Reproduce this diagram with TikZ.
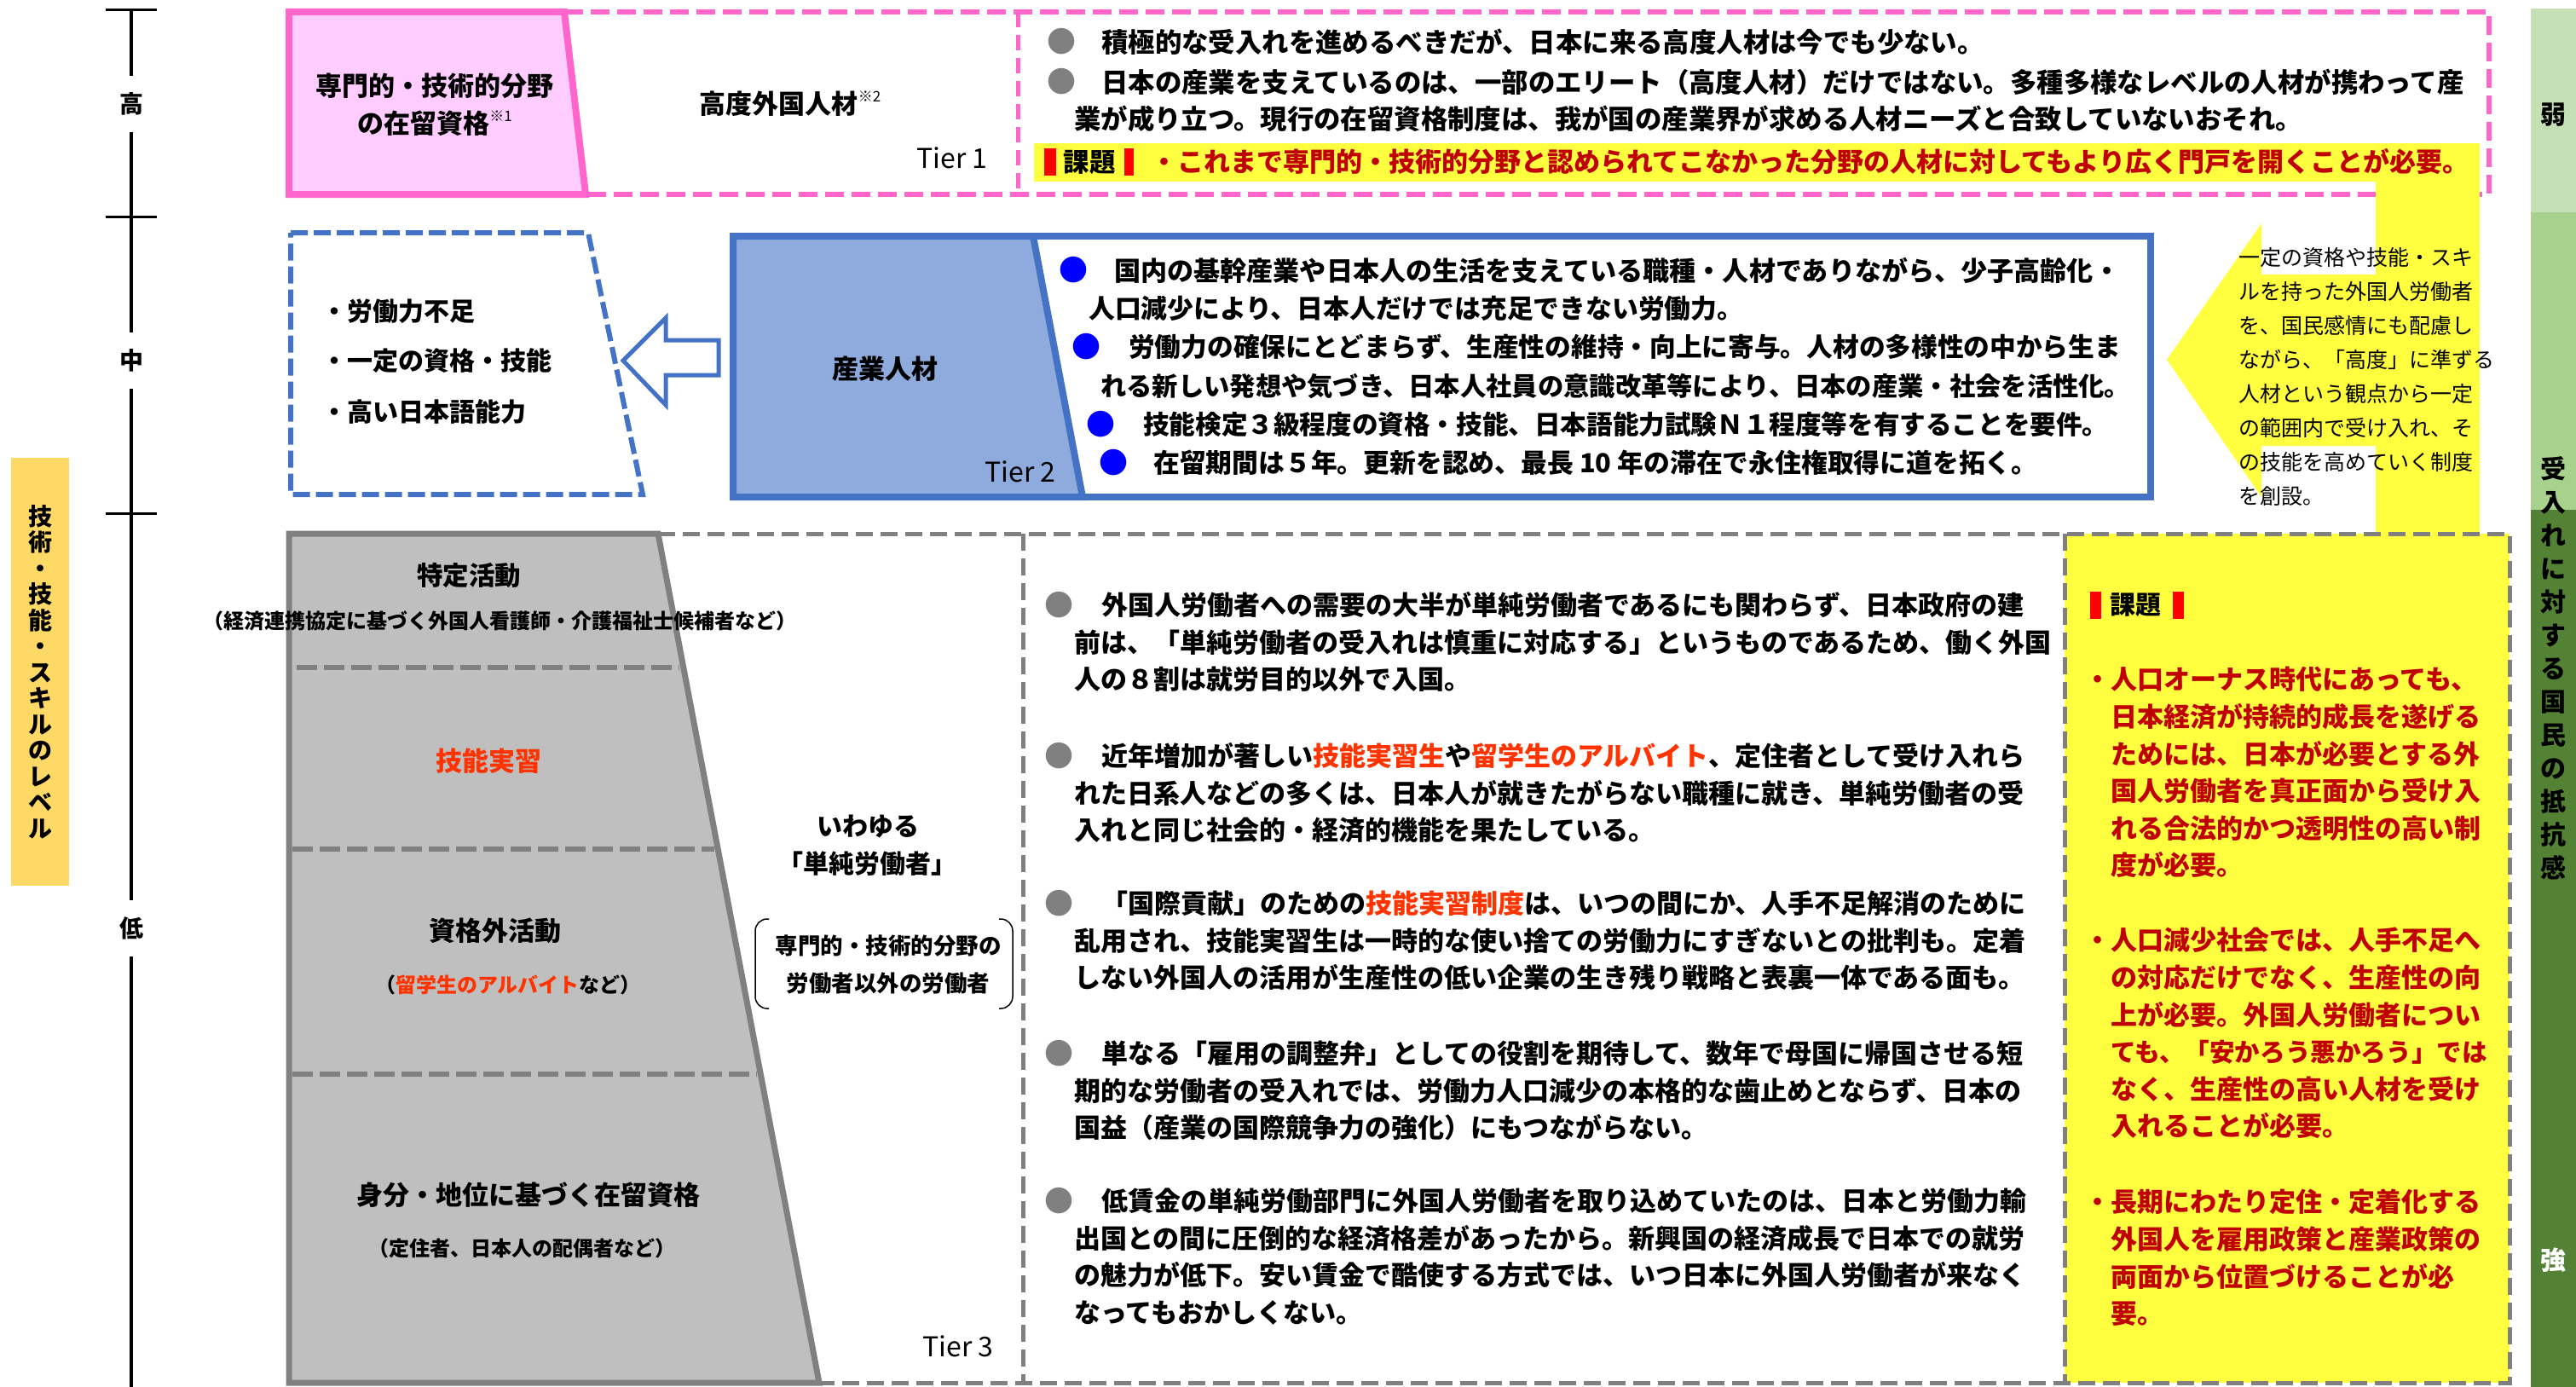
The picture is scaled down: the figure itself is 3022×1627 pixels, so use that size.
\documentclass[tikz,border=0pt]{standalone}
\usepackage{fontspec}
\setmainfont{Noto Sans CJK JP}
\definecolor{pinkS}{HTML}{FF66CC}
\definecolor{pinkF}{HTML}{FFCCFF}
\definecolor{blueS}{HTML}{4472C4}
\definecolor{blueF}{HTML}{8FAADC}
\definecolor{grayS}{HTML}{808080}
\definecolor{grayF}{HTML}{BFBFBF}
\definecolor{yel}{HTML}{FFFF40}
\definecolor{orng}{HTML}{FFD966}
\definecolor{redT}{HTML}{FF3300}
\definecolor{dred}{HTML}{C00000}
\definecolor{gA}{HTML}{C5E0B4}
\definecolor{gB}{HTML}{A9D18E}
\definecolor{gC}{HTML}{548235}
\definecolor{blueB}{HTML}{0000FF}
\definecolor{barR}{HTML}{FF0000}
\newcommand\fstr{\rule{0pt}{0.88em}}
\newcommand\supx[1]{\raisebox{0.45em}{\mdseries\fontsize{17}{17}\selectfont #1}}
\tikzset{
  fb/.style 2 args={inner sep=0pt, font=\bfseries\fontsize{#1}{#2}\selectfont},
  fr/.style 2 args={inner sep=0pt, font=\mdseries\fontsize{#1}{#2}\selectfont},
  para/.style={anchor=north west, align=left},
  gdash/.style={draw=grayS, line width=5pt, dash pattern=on 20pt off 9pt},
  idash/.style={draw=grayS, line width=6pt, dash pattern=on 24pt off 8pt},
  pdash/.style={draw=pinkS, line width=6pt, dash pattern=on 22pt off 9pt},
  bdash/.style={draw=blueS, line width=6pt, dash pattern=on 20pt off 7pt},
  lvl/.style={fb={28}{30}, fill=white, inner xsep=4pt, inner ysep=20pt},
}
\begin{document}
\begin{tikzpicture}[x=1pt,y=-1pt]
\useasboundingbox (0,0) rectangle (3022,1627);

% ===== left axis
\coordinate (ax0) at (154,12);
\coordinate (ax1) at (154,1627);
\draw[line width=4pt] (ax0) -- (ax1);
\draw[line width=3pt] (124,12) -- (184,12);
\draw[line width=3pt] (124,254) -- (184,254);
\draw[line width=3pt] (124,602) -- (184,602);
\node[lvl] (lvH) at (154,122) {高};
\node[lvl] (lvM) at (154,423) {中};
\node[lvl] (lvL) at (154,1089) {低};
\node[fill=orng, minimum width=68pt, minimum height=502pt, fb={28}{30.5}, align=center] (lv) at (47,788) {技\\術\\・\\技\\能\\・\\ス\\キ\\ル\\の\\レ\\ベ\\ル};

% ===== right green bar
\fill[gA] (2969,10) rectangle (3022,249);
\fill[gB] (2969,249) rectangle (3022,598);
\fill[gC] (2969,598) rectangle (3022,1627);
\node[fb={30}{30}] (weak) at (2995,135) {弱};
\node[fb={30}{39}, align=center] (resist) at (2995,784) {受\\入\\れ\\に\\対\\す\\る\\国\\民\\の\\抵\\抗\\感};
\node[fb={30}{30}, text=white] (strong) at (2995,1478) {強};

% ===== Tier 1 frames
\draw[pdash] (662,14) -- (2920,14) -- (2920,228) -- (687,228);
\draw[draw=pinkS, line width=5pt, dash pattern=on 18pt off 9pt] (1194,14) -- (1194,228);

% ===== yellow flow
\fill[yel] (1213,168) rectangle (2909,213);
\fill[yel] (2787,168) rectangle (2909,630);
\fill[yel] (2542,422) -- (2653,262) -- (2653,322) -- (2790,322) -- (2790,523) -- (2653,523) -- (2653,583) -- cycle;
\fill[yel] (2422,626) rectangle (2944,1622);

% ===== Tier 1
\draw[draw=pinkS, fill=pinkF, line width=8pt] (339,14) -- (662,14) -- (687,228) -- (339,228) -- cycle;
\node[fb={31}{44}, align=center] (spec) at (510,123) {専門的・技術的分野\\の在留資格\supx{※1}};
\node[fb={31}{31}] (hfr) at (927,122) {高度外国人材\supx{※2}};
\node[fr={32}{32}] (tier1) at (1117,185) {Tier 1};
\node[fb={34}{34}, text=grayS] (b1a) at (1245,49) {●};
\node[fb={34}{34}, text=grayS] (b1b) at (1245,96) {●};
\node[fb={31.4}{43}, anchor=west] (p1a) at (1292,49) {積極的な受入れを進めるべきだが、日本に来る高度人材は今でも少ない。};
\node[fb={31.4}{43}, para] (p1b) at (1260,80.3) {\fstr\hspace*{32pt}日本の産業を支えているのは、一部のエリート（高度人材）だけではない。多種多様なレベルの人材が携わって産\\業が成り立つ。現行の在留資格制度は、我が国の産業界が求める人材ニーズと合致していないおそれ。};
\fill[barR] (1225,174) rectangle (1239,206);
\fill[barR] (1319,174) rectangle (1330,206);
\node[fb={30.5}{30.5}] (k1) at (1278,190) {課題};
\node[fb={31}{31}, text=dred, anchor=west] (k1t) at (1350,190) {・これまで専門的・技術的分野と認められてこなかった分野の人材に対してもより広く門戸を開くことが必要。};

% ===== Tier 2
\draw[bdash] (341,273) -- (690,273) -- (754,580) -- (341,580) -- cycle;
\node[fb={30}{30}, anchor=west] (c1) at (377,365) {・労働力不足};
\node[fb={30}{30}, anchor=west] (c2) at (377,423) {・一定の資格・技能};
\node[fb={30}{30}, anchor=west] (c3) at (377,483) {・高い日本語能力};
\draw[draw=blueS, line width=5pt, fill=white, line join=miter] (731,423) -- (781,373) -- (781,399) -- (843,399) -- (843,440) -- (781,440) -- (781,475) -- cycle;
\draw[draw=blueS, line width=8pt] (860,277) rectangle (2523,583);
\draw[draw=blueS, fill=blueF, line width=8pt] (860,277) -- (1212,277) -- (1270,583) -- (860,583) -- cycle;
\node[fb={31}{31}] (ind) at (1038,433) {産業人材};
\node[fr={32}{32}] (tier2) at (1197,553) {Tier 2};
\node[fb={34}{34}, text=blueB] (bb1) at (1259,317) {●};
\node[fb={34}{34}, text=blueB] (bb2) at (1274,407) {●};
\node[fb={34}{34}, text=blueB] (bb3) at (1291,498) {●};
\node[fb={34}{34}, text=blueB] (bb4) at (1306,543) {●};
\node[fb={31.1}{31.1}, anchor=west] (q1) at (1307,317) {国内の基幹産業や日本人の生活を支えている職種・人材でありながら、少子高齢化・};
\node[fb={30.8}{30.8}, anchor=west] (q2) at (1277,362) {人口減少により、日本人だけでは充足できない労働力。};
\node[fb={30.7}{30.7}, anchor=west] (q3) at (1324,407) {労働力の確保にとどまらず、生産性の維持・向上に寄与。人材の多様性の中から生ま};
\node[fb={30.3}{30.3}, anchor=west] (q4) at (1291,453) {れる新しい発想や気づき、日本人社員の意識改革等により、日本の産業・社会を活性化。};
\node[fb={30.6}{30.6}, anchor=west] (q5) at (1341,498) {技能検定３級程度の資格・技能、日本語能力試験Ｎ１程度等を有することを要件。};
\node[fb={30.8}{30.8}, anchor=west] (q6) at (1353,543) {在留期間は５年。更新を認め、最長 10 年の滞在で永住権取得に道を拓く。};
\node[fr={25}{40}, para] (arrtxt) at (2626,289.5) {\fstr 一定の資格や技能・スキ\\ルを持った外国人労働者\\を、国民感情にも配慮し\\ながら、「高度」に準ずる\\人材という観点から一定\\の範囲内で受け入れ、そ\\の技能を高めていく制度\\を創設。};

% ===== Tier 3
\draw[draw=grayS, fill=grayF, line width=7pt] (339,626) -- (772,626) -- (961,1622) -- (339,1622) -- cycle;
\draw[idash] (348,783) -- (797,783);
\draw[idash] (343,996) -- (838,996);
\draw[idash] (343,1260) -- (888,1260);
\draw[gdash] (772,626) -- (2944,626) -- (2944,1622) -- (961,1622);
\draw[gdash] (1200,626) -- (1200,1622);
\draw[gdash] (2422,626) -- (2422,1622);
\node[fb={30.5}{30.5}] (s1) at (550,675) {特定活動};
\node[fb={24}{24}] (s1b) at (586,728) {（経済連携協定に基づく外国人看護師・介護福祉士候補者など）};
\node[fb={31}{31}, text=redT] (s2) at (573,893) {技能実習};
\node[fb={31}{31}] (s3) at (581,1092) {資格外活動};
\node[fb={24}{24}] (s3b) at (596,1155) {（\textcolor{redT}{留学生のアルバイト}など）};
\node[fb={31}{31}] (s4) at (620,1402) {身分・地位に基づく在留資格};
\node[fb={24}{24}] (s4b) at (612,1464) {（定住者、日本人の配偶者など）};
\node[fb={30}{30}] (iw) at (1018,969) {いわゆる};
\node[fb={30}{30}] (tw) at (1017,1013) {「単純労働者」};
\node[fb={26.5}{44}, align=center] (oth) at (1042,1131) {専門的・技術的分野の\\労働者以外の労働者};
\draw[line width=1.5pt, rounded corners=14pt] (902,1078) -- (886,1078) -- (886,1183) -- (902,1183);
\draw[line width=1.5pt, rounded corners=14pt] (1172,1078) -- (1188,1078) -- (1188,1183) -- (1172,1183);
\node[fr={32}{32}] (tier3) at (1124,1579) {Tier 3};

\node[fb={34}{34}, text=grayS] (g1) at (1242,710) {●};
\node[fb={34}{34}, text=grayS] (g2) at (1242,887) {●};
\node[fb={34}{34}, text=grayS] (g3) at (1242,1060) {●};
\node[fb={34}{34}, text=grayS] (g4) at (1242,1236) {●};
\node[fb={34}{34}, text=grayS] (g5) at (1242,1409) {●};
\node[fb={31}{43.5}, para] (m1) at (1260,694.5) {\fstr\hspace*{32pt}外国人労働者への需要の大半が単純労働者であるにも関わらず、日本政府の建\\前は、「単純労働者の受入れは慎重に対応する」というものであるため、働く外国\\人の８割は就労目的以外で入国。};
\node[fb={31}{43.5}, para] (m2) at (1260,871.5) {\fstr\hspace*{32pt}近年増加が著しい\textcolor{redT}{技能実習生}や\textcolor{redT}{留学生のアルバイト}、定住者として受け入れら\\れた日系人などの多くは、日本人が就きたがらない職種に就き、単純労働者の受\\入れと同じ社会的・経済的機能を果たしている。};
\node[fb={31}{43.5}, para] (m3) at (1260,1044.5) {\fstr\hspace*{32pt}「国際貢献」のための\textcolor{redT}{技能実習制度}は、いつの間にか、人手不足解消のために\\乱用され、技能実習生は一時的な使い捨ての労働力にすぎないとの批判も。定着\\しない外国人の活用が生産性の低い企業の生き残り戦略と表裏一体である面も。};
\node[fb={31}{43.5}, para] (m4) at (1260,1220.5) {\fstr\hspace*{32pt}単なる「雇用の調整弁」としての役割を期待して、数年で母国に帰国させる短\\期的な労働者の受入れでは、労働力人口減少の本格的な歯止めとならず、日本の\\国益（産業の国際競争力の強化）にもつながらない。};
\node[fb={31}{43.5}, para] (m5) at (1260,1393.5) {\fstr\hspace*{32pt}低賃金の単純労働部門に外国人労働者を取り込めていたのは、日本と労働力輸\\出国との間に圧倒的な経済格差があったから。新興国の経済成長で日本での就労\\の魅力が低下。安い賃金で酷使する方式では、いつ日本に外国人労働者が来なく\\なってもおかしくない。};

% yellow box
\fill[barR] (2452,694) rectangle (2465,726);
\fill[barR] (2549,694) rectangle (2562,726);
\node[fb={30}{30}] (k3) at (2505,710) {課題};
\node[fb={31}{43.6}, para, text=dred] (y1) at (2445,781.5) {\fstr・人口オーナス時代にあっても、\\\hspace*{31pt}日本経済が持続的成長を遂げる\\\hspace*{31pt}ためには、日本が必要とする外\\\hspace*{31pt}国人労働者を真正面から受け入\\\hspace*{31pt}れる合法的かつ透明性の高い制\\\hspace*{31pt}度が必要。};
\node[fb={31}{43.6}, para, text=dred] (y2) at (2445,1087.5) {\fstr・人口減少社会では、人手不足へ\\\hspace*{31pt}の対応だけでなく、生産性の向\\\hspace*{31pt}上が必要。外国人労働者につい\\\hspace*{31pt}{\fontsize{29.6}{43.6}\selectfont ても、「安かろう悪かろう」では}\\\hspace*{31pt}なく、生産性の高い人材を受け\\\hspace*{31pt}入れることが必要。};
\node[fb={31}{43.6}, para, text=dred] (y3) at (2445,1394.5) {\fstr・長期にわたり定住・定着化する\\\hspace*{31pt}外国人を雇用政策と産業政策の\\\hspace*{31pt}両面から位置づけることが必\\\hspace*{31pt}要。};
\end{tikzpicture}
\end{document}
